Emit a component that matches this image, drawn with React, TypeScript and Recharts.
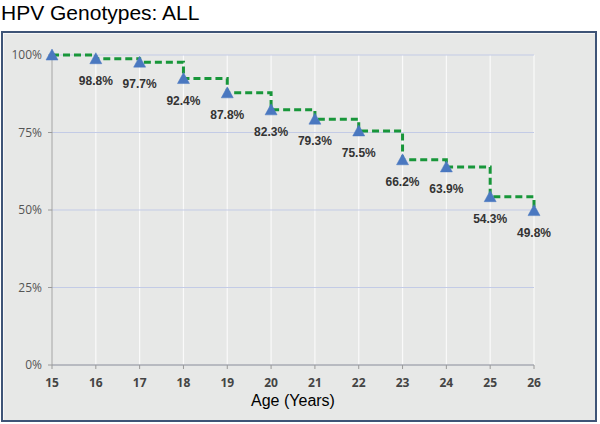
import React from 'react';
import { LineChart, Line, XAxis, YAxis, CartesianGrid, LabelList } from 'recharts';

const ages = [15, 16, 17, 18, 19, 20, 21, 22, 23, 24, 25, 26];
const survival = [100, 98.8, 97.7, 92.4, 87.8, 82.3, 79.3, 75.5, 66.2, 63.9, 54.3, 49.8];
const labels = ['', '98.8%', '97.7%', '92.4%', '87.8%', '82.3%', '79.3%', '75.5%', '66.2%', '63.9%', '54.3%', '49.8%'];
const yTicks = [0, 25, 50, 75, 100];

const data = ages.map((a, i) => ({ age: a, value: survival[i], label: labels[i] }));

const Triangle = (props: any) => {
  const { cx, cy } = props;
  if (cx == null || cy == null) return null;
  const s = 6;
  return (
    <path
      d={`M${cx},${cy - s} L${cx + s},${cy + s - 1} L${cx - s},${cy + s - 1} Z`}
      fill="#4a78c0"
      stroke="#4a78c0"
      strokeWidth={0.5}
    />
  );
};

const ValueLabel = (props: any) => {
  const { x, y, value } = props;
  if (!value) return null;
  return (
    <text
      x={x}
      y={y + 26}
      textAnchor="middle"
      fontFamily="'Liberation Sans', Arial, sans-serif"
      fontWeight="bold"
      fontSize={12}
      fill="#333"
    >
      {value}
    </text>
  );
};

export default function App() {
  return (
    <div style={{ position: 'absolute', left: 0, top: 0, width: 600, height: 424, background: '#fff' }}>
      <div
        style={{
          position: 'absolute',
          left: 1,
          top: 0,
          fontFamily: "'Liberation Sans', Arial, sans-serif",
          fontSize: 21,
          lineHeight: '26px',
          color: '#000',
        }}
      >
        HPV Genotypes: ALL
      </div>
      <div
        style={{
          position: 'absolute',
          left: 1,
          top: 31,
          width: 592,
          height: 387,
          border: '2px solid #3e5477',
          background: '#e7e8e7',
          boxShadow: 'inset 1px 1px 0 #f6f6f6',
        }}
      />
      <div style={{ position: 'absolute', left: 0, top: 0 }}>
        <LineChart
          width={600}
          height={424}
          data={data}
          margin={{ top: 55, right: 66, bottom: 14, left: 12 }}
        >
          <CartesianGrid horizontal={false} vertical={true} stroke="#fafafa" strokeWidth={1.2} />
          <CartesianGrid horizontal={true} vertical={false} stroke="#c3cbe6" strokeWidth={1} />
          <XAxis
            dataKey="age"
            type="number"
            domain={[15, 26]}
            ticks={ages}
            interval={0}
            stroke="#9a9a9a"
            tickSize={4}
            tickMargin={9}
            tick={{ fill: '#444', fontSize: 12, fontWeight: 'bold', fontFamily: "'Open Sans', sans-serif" }}
            height={45}
            label={{
              value: 'Age (Years)',
              position: 'insideBottom',
              offset: 4,
              fill: '#000',
              fontSize: 16,
              fontFamily: "'Liberation Sans', Arial, sans-serif",
            }}
          />
          <YAxis
            domain={[0, 100]}
            ticks={yTicks}
            width={40}
            stroke="#9a9a9a"
            tickSize={4}
            tickMargin={6}
            tickFormatter={(v: number) => `${v}%`}
            tick={{ fill: '#555', fontSize: 12, fontFamily: "'Open Sans', sans-serif" }}
          />
          <Line
            type="stepAfter"
            dataKey="value"
            stroke="#18963a"
            strokeWidth={3}
            strokeDasharray="7 4"
            dot={<Triangle />}
            activeDot={false}
            isAnimationActive={false}
          >
            <LabelList dataKey="label" content={<ValueLabel />} />
          </Line>
        </LineChart>
      </div>
    </div>
  );
}
